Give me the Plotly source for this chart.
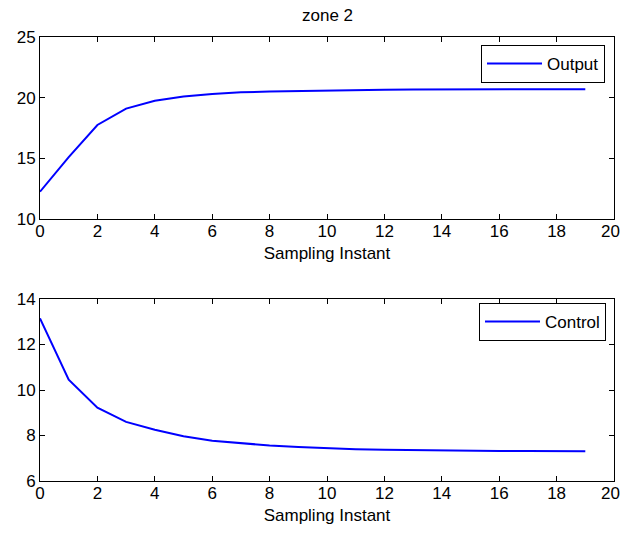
import plotly.graph_objects as go

W, H = 624, 533
ML, MR, MT, MB = 40, 10, 37, 52

sampling_instant = list(range(20))
output_values = [12.25, 15.1, 17.75, 19.1, 19.75, 20.1, 20.3, 20.45, 20.5, 20.55,
                 20.6, 20.62, 20.65, 20.67, 20.68, 20.69, 20.7, 20.7, 20.7, 20.7]
control_values = [13.15, 10.45, 9.22, 8.6, 8.25, 7.97, 7.77, 7.65, 7.56, 7.5,
                  7.44, 7.4, 7.37, 7.35, 7.34, 7.33, 7.32, 7.32, 7.31, 7.31]

x_ticks = [0, 2, 4, 6, 8, 10, 12, 14, 16, 18, 20]
# last x tick label is drawn separately so it is not clipped at the page edge
x_tick_text = [str(v) for v in x_ticks[:-1]] + [""]
top_y_ticks = [10, 15, 20, 25]
bottom_y_ticks = [6, 8, 10, 12, 14]

FONT = "Liberation Sans, Arial, sans-serif"
FS = 17

PW = W - ML - MR
PH = H - MT - MB

def px_x(p):
    return (p - ML) / PW

def px_y(p):
    return (H - MB - p) / PH

fig = go.Figure()
fig.add_trace(go.Scatter(x=sampling_instant, y=output_values, mode="lines",
                         line=dict(color="#0000ff", width=2), name="Output",
                         xaxis="x", yaxis="y", legend="legend", showlegend=True))
fig.add_trace(go.Scatter(x=sampling_instant, y=control_values, mode="lines",
                         line=dict(color="#0000ff", width=2), name="Control",
                         xaxis="x2", yaxis="y2", legend="legend2", showlegend=True))

axis_common = dict(showline=True, linecolor="black", linewidth=1, mirror="ticks",
                   ticks="inside", ticklen=5, tickcolor="black", showgrid=False,
                   zeroline=False, automargin=False,
                   tickfont=dict(family=FONT, size=FS, color="black"))

xtitle = dict(text="Sampling Instant", standoff=6, font=dict(family=FONT, size=FS))

fig.update_layout(
    width=W, height=H,
    margin=dict(l=ML, r=MR, t=MT, b=MB),
    showlegend=True,
    paper_bgcolor="white", plot_bgcolor="white",
    font=dict(family=FONT, size=FS, color="black"),
    xaxis=dict(domain=[0, 1], range=[0, 20], tickvals=x_ticks, ticktext=x_tick_text,
               anchor="y", ticklabelstandoff=-3, title=xtitle, **axis_common),
    yaxis=dict(domain=[px_y(219), px_y(37)], range=[10, 25], tickvals=top_y_ticks,
               anchor="x", **axis_common),
    xaxis2=dict(domain=[0, 1], range=[0, 20], tickvals=x_ticks, ticktext=x_tick_text,
                anchor="y2", ticklabelstandoff=-3, title=xtitle, **axis_common),
    yaxis2=dict(domain=[px_y(481), px_y(299)], range=[6, 14], tickvals=bottom_y_ticks,
                anchor="x2", **axis_common),
    legend=dict(x=px_x(605), y=px_y(45), xanchor="right", yanchor="top",
                bordercolor="black", borderwidth=1, bgcolor="white",
                itemwidth=55, font=dict(family=FONT, size=FS),
                tracegroupgap=0),
    legend2=dict(x=px_x(606), y=px_y(303), xanchor="right", yanchor="top",
                 bordercolor="black", borderwidth=1, bgcolor="white",
                 itemwidth=55, font=dict(family=FONT, size=FS),
                 tracegroupgap=0),
    annotations=[
        dict(text="zone 2", x=0.5, y=px_y(16), xref="paper", yref="paper",
             showarrow=False, xanchor="center", yanchor="middle",
             font=dict(family=FONT, size=FS, color="black")),
        dict(text=str(x_ticks[-1]), x=px_x(622), y=px_y(231), xref="paper", yref="paper",
             showarrow=False, xanchor="right", yanchor="middle",
             font=dict(family=FONT, size=FS, color="black")),
        dict(text=str(x_ticks[-1]), x=px_x(622), y=px_y(493), xref="paper", yref="paper",
             showarrow=False, xanchor="right", yanchor="middle",
             font=dict(family=FONT, size=FS, color="black")),
    ],
)

fig.write_html("out.html", config={"displayModeBar": False},
               post_script="document.body.style.margin='0';document.body.style.overflow='hidden';")
